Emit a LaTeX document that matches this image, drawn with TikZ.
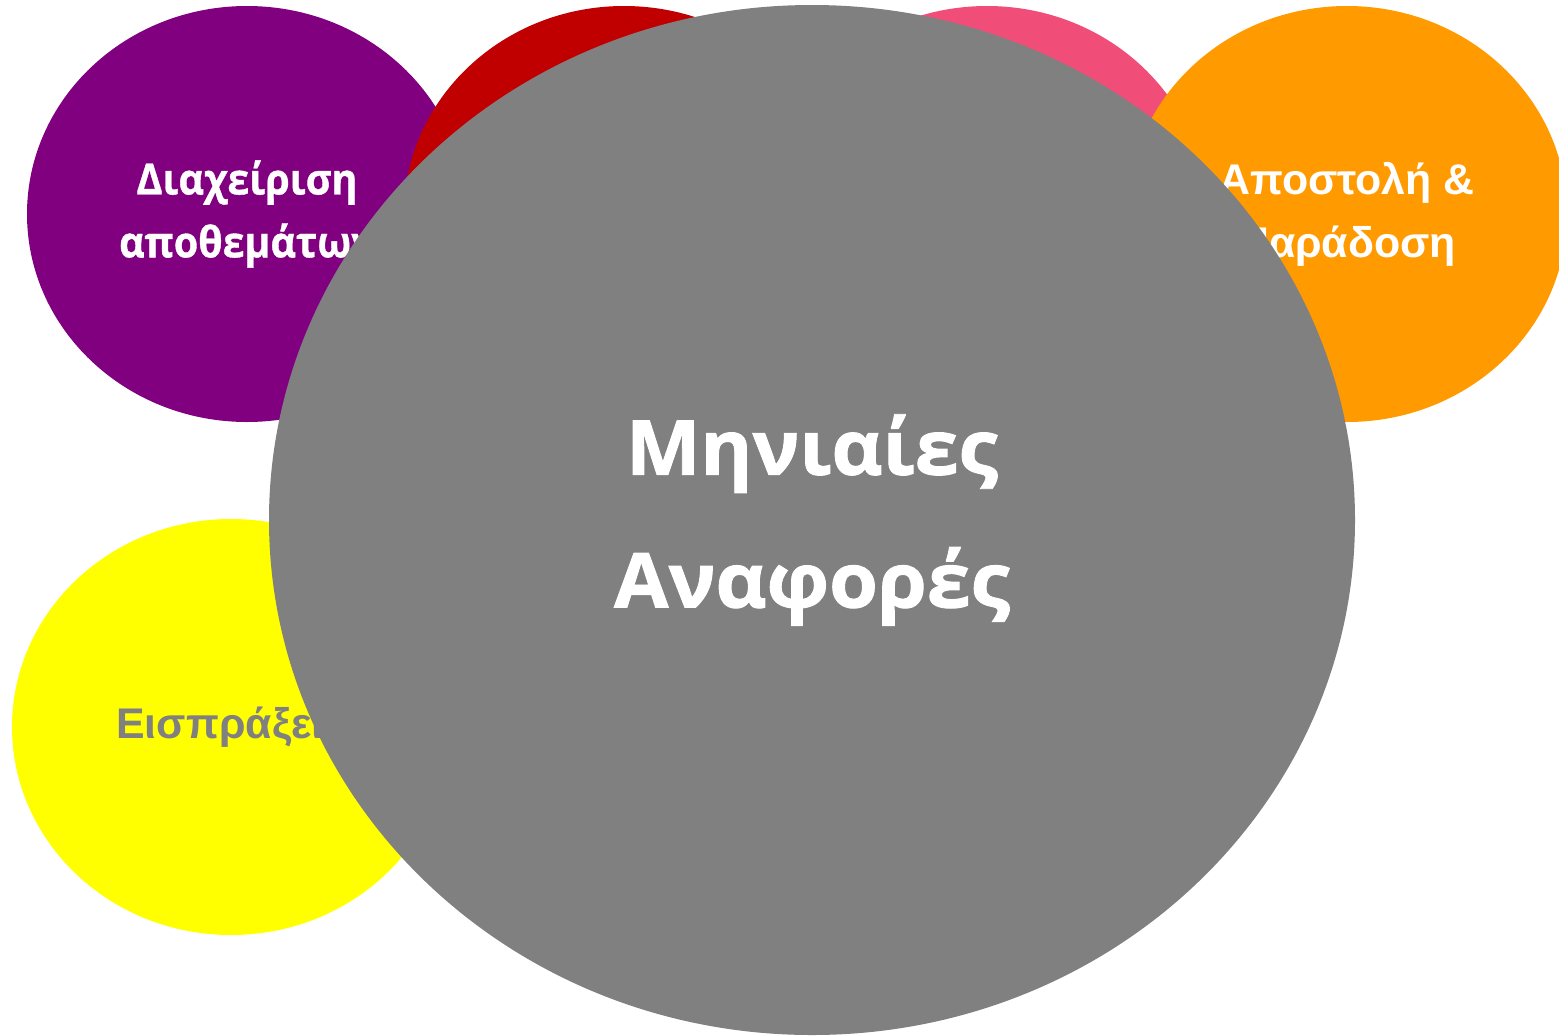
\documentclass[tikz,border=0pt]{standalone}
\usepackage{fontspec}
\setmainfont{Liberation Sans}
\newfontfamily\hubfont{Open Sans}[FakeBold=1.2, FakeStretch=1.04]
\newfontfamily\stockfont{Open Sans}[FakeBold=0.8, FakeStretch=0.92]
\usetikzlibrary{shapes.geometric}
\definecolor{bubblepurple}{HTML}{800080}
\definecolor{bubblered}{HTML}{C00000}
\definecolor{bubblepink}{HTML}{F04E78}
\definecolor{bubbleorange}{HTML}{FF9A00}
\definecolor{bubbleyellow}{HTML}{FFFF00}
\definecolor{bubblegray}{HTML}{808080}
\tikzset{
  bubble/.style={ellipse, draw=none, inner sep=0pt, align=center, text=white,
    minimum width=4.4cm, minimum height=4.16cm,
    font=\bfseries\fontsize{12.2}{17.9}\selectfont},
  hub/.style={bubble, fill=bubblegray, minimum width=10.86cm, minimum height=10.3cm,
    font=\hubfont\bfseries\fontsize{21.6}{37.8}\selectfont}
}
\begin{document}
\begin{tikzpicture}
\useasboundingbox (0,0) rectangle (15.59,10.35);
\node [bubble, fill=bubblepurple, font=\stockfont\bfseries\fontsize{12.2}{17.9}\selectfont] (stock) at (2.47,8.21) {Διαχείριση\\αποθεμάτων};
\node [bubble, fill=bubblered] (orders) at (6.24,8.21) {};
\node [bubble, fill=bubblepink] (billing) at (9.87,8.21) {};
\node [bubble, fill=bubbleorange] (delivery) at (13.47,8.21) {Αποστολή \&\\Παράδοση};
\node [bubble, fill=bubbleyellow, text=bubblegray, minimum width=4.38cm] (receipts) at (2.31,3.08) {Εισπράξεις};
\node [hub] (reports) at (8.12,5.15) {Μηνιαίες\\Αναφορές};
\end{tikzpicture}
\end{document}
